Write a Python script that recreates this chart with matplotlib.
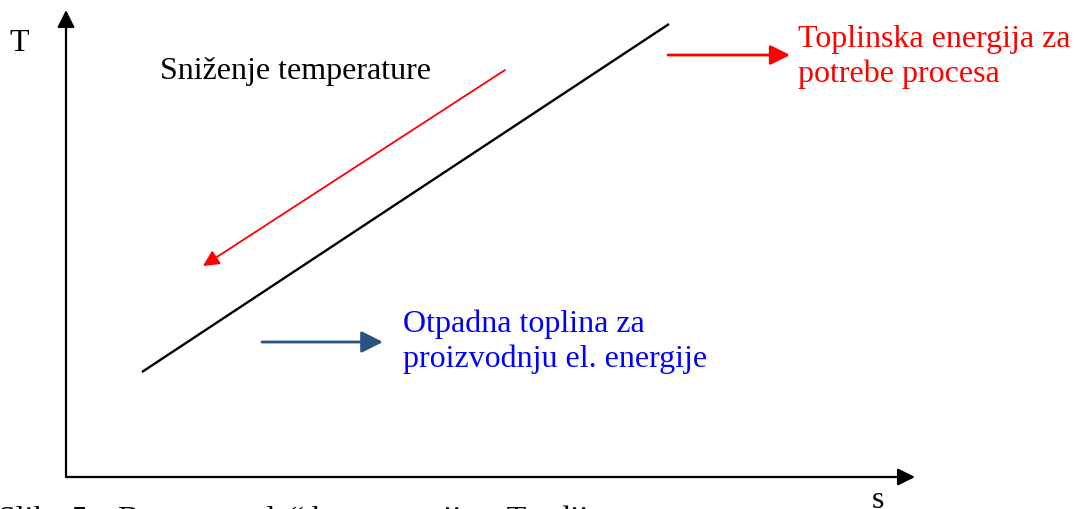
import matplotlib
matplotlib.use("Agg")
import matplotlib.pyplot as plt

plt.rcParams['font.family'] = ['Liberation Serif', 'DejaVu Serif']

# T-s schematic (arbitrary units, origin at the axes corner)
s_axis_end = 849
T_axis_end = 467

line_s = [76, 603]
line_T = [105, 453]

cooling_from = (439, 407)
cooling_to = (137, 211)

process_from = (602, 422)
process_to = (724, 422)

waste_from = (196, 135)
waste_to = (317, 135)

label_T = "T"
label_s = "s"
label_cooling = "Sniženje temperature"
label_process = "Toplinska energija za\npotrebe procesa"
label_waste = "Otpadna toplina za\nproizvodnju el. energije"
caption = "Slika 5. „Bottom cycle“ kogeneracija – T-s dijagram"

fig = plt.figure(figsize=(10.74, 5.09), dpi=100)
ax = fig.add_axes([0, 0, 1, 1])
ax.set_xlim(-66, 1008)
ax.set_ylim(-32, 477)
ax.axis("off")

# axes with arrow heads
ax.annotate("", xy=(0, T_axis_end), xytext=(0, 0),
            arrowprops=dict(arrowstyle="-|>", color="black", lw=1.6,
                            mutation_scale=26, shrinkA=0, shrinkB=0))
ax.annotate("", xy=(s_axis_end, 0), xytext=(0, 0),
            arrowprops=dict(arrowstyle="-|>", color="black", lw=1.6,
                            mutation_scale=26, shrinkA=0, shrinkB=0))

ax.plot(line_s, line_T, color="black", lw=1.7, solid_capstyle="butt")

ax.annotate("", xy=cooling_to, xytext=cooling_from,
            arrowprops=dict(arrowstyle="-|>", color="#ff0000", lw=1.3,
                            mutation_scale=24, shrinkA=0, shrinkB=0))
ax.annotate("", xy=process_to, xytext=process_from,
            arrowprops=dict(arrowstyle="-|>", color="#ff0000", lw=2.0,
                            mutation_scale=30, shrinkA=0, shrinkB=0))
ax.annotate("", xy=waste_to, xytext=waste_from,
            arrowprops=dict(arrowstyle="-|>", color="#2b5380", lw=2.0,
                            mutation_scale=33, shrinkA=0, shrinkB=0))

ax.text(-47, 434, label_T, fontsize=23, ha="center", va="center")
ax.text(812, -24, label_s, fontsize=23, ha="center", va="center")
ax.text(94, 406, label_cooling, fontsize=23, ha="left", va="center")
ax.text(732, 420, label_process, fontsize=23, ha="left", va="center",
        color="#ff0000", linespacing=1.23)
ax.text(337, 135, label_waste, fontsize=23, ha="left", va="center",
        color="#0000ff", linespacing=1.23)
ax.text(-68, -51, caption, fontsize=23, ha="left", va="baseline")

fig.savefig("out.png", dpi=100)
